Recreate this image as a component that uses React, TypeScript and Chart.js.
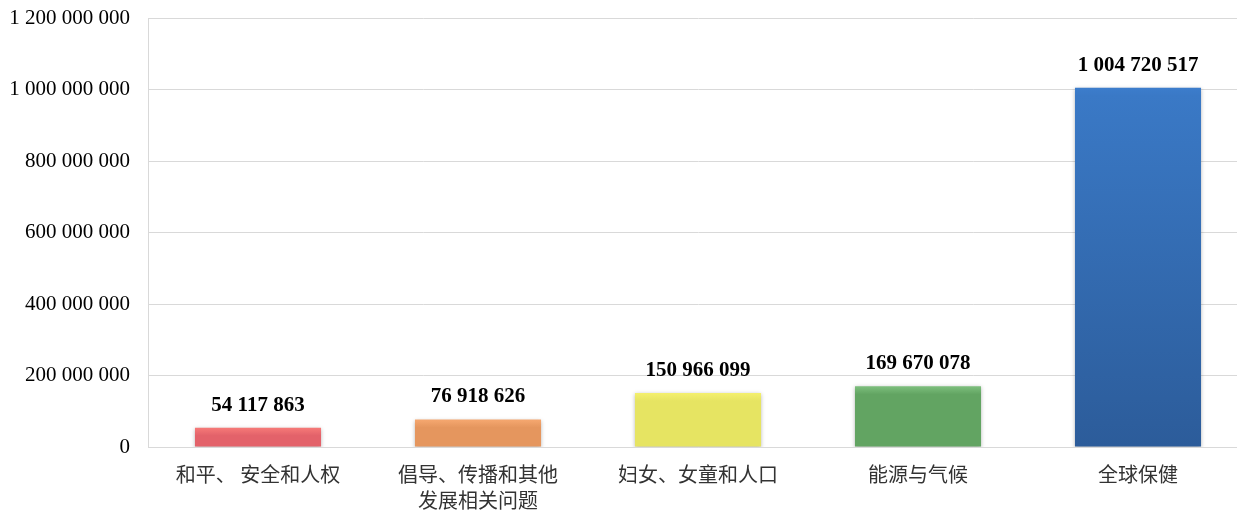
import React, { useEffect, useRef } from "react";
import { Chart, registerables } from "chart.js";

Chart.register(...registerables);

const categories: (string | string[])[] = [
  "和平、 安全和人权",
  ["倡导、传播和其他", "发展相关问题"],
  "妇女、女童和人口",
  "能源与气候",
  "全球保健",
];
const values = [54117863, 76918626, 150966099, 169670078, 1004720517];
const topColors = ["#f67a78", "#f6a870", "#f4f06e", "#7dbf7d", "#3c7dcc"];
const bottomColors = ["#e3626a", "#e5965e", "#e6e462", "#62a462", "#2c5c9a"];

const fmt = (v: number) =>
  Math.round(v)
    .toString()
    .replace(/\B(?=(\d{3})+(?!\d))/g, " ");

const serif = "'Liberation Serif', 'Times New Roman', serif";

const shadowPlugin = {
  id: "barShadow",
  beforeDatasetDraw(chart: any) {
    const ctx = chart.ctx;
    ctx.save();
    ctx.shadowColor = "rgba(0,0,0,0.28)";
    ctx.shadowBlur = 4;
    ctx.shadowOffsetX = 0;
    ctx.shadowOffsetY = 1;
  },
  afterDatasetDraw(chart: any) {
    chart.ctx.restore();
  },
};

const labelPlugin = {
  id: "valueLabels",
  afterDatasetsDraw(chart: any) {
    const ctx = chart.ctx;
    const meta = chart.getDatasetMeta(0);
    ctx.save();
    ctx.font = `bold 21px ${serif}`;
    ctx.fillStyle = "#000";
    ctx.textAlign = "center";
    ctx.textBaseline = "bottom";
    meta.data.forEach((bar: any, i: number) => {
      ctx.fillText(fmt(values[i]), bar.x, bar.y - 12);
    });
    ctx.restore();
  },
};

export default function App() {
  const ref = useRef<HTMLCanvasElement>(null);
  useEffect(() => {
    document.body.style.margin = "0";
    if (!ref.current) return;
    const chart = new Chart(ref.current, {
      type: "bar",
      data: {
        labels: categories,
        datasets: [
          {
            data: values,
            barPercentage: 0.573,
            categoryPercentage: 1,
            backgroundColor: (c: any) => {
              const chart = c.chart;
              const i = c.dataIndex;
              const y = chart.scales && chart.scales.y;
              if (!chart.chartArea || !y || i === undefined) return bottomColors[i ?? 0];
              const top = y.getPixelForValue(values[i]);
              const bottom = y.getPixelForValue(0);
              const g = chart.ctx.createLinearGradient(0, top, 0, bottom);
              g.addColorStop(0, topColors[i]);
              g.addColorStop(
                Math.min(1, 8 / Math.max(1, bottom - top)),
                i === 4 ? "#3a79c6" : bottomColors[i]
              );
              g.addColorStop(1, bottomColors[i]);
              return g;
            },
          },
        ],
      },
      options: {
        animation: false,
        responsive: true,
        maintainAspectRatio: false,
        layout: { padding: { top: 18, right: 0, left: 0, bottom: 0 } },
        plugins: { legend: { display: false }, tooltip: { enabled: false } },
        scales: {
          x: {
            grid: { display: false, drawTicks: false },
            border: { display: true, color: "#d9d9d9", width: 1 },
            ticks: {
              color: "#333",
              font: { family: "'Noto Sans CJK SC', sans-serif", size: 20, lineHeight: 1.3 },
              padding: 14,
              maxRotation: 0,
              autoSkip: false,
            },
            afterFit: (s: any) => {
              s.height = 66;
              s.paddingLeft = 0;
              s.paddingRight = 0;
            },
          },
          y: {
            min: 0,
            max: 1200000000,
            grid: { color: "#d9d9d9", drawTicks: false },
            border: { display: true, color: "#d9d9d9" },
            ticks: {
              stepSize: 200000000,
              color: "#000",
              font: { family: serif, size: 21 },
              padding: 18,
              callback: (v: any) => fmt(Number(v)),
            },
            afterFit: (s: any) => {
              s.width = 148;
              s.paddingTop = 0;
              s.paddingBottom = 0;
            },
          },
        },
      },
      plugins: [shadowPlugin, labelPlugin],
    });
    return () => chart.destroy();
  }, []);
  return (
    <div style={{ width: 1237, height: 513, overflow: "hidden", position: "relative" }}>
      <div style={{ width: 1248, height: 513, position: "relative" }}>
        <canvas ref={ref} />
      </div>
    </div>
  );
}
